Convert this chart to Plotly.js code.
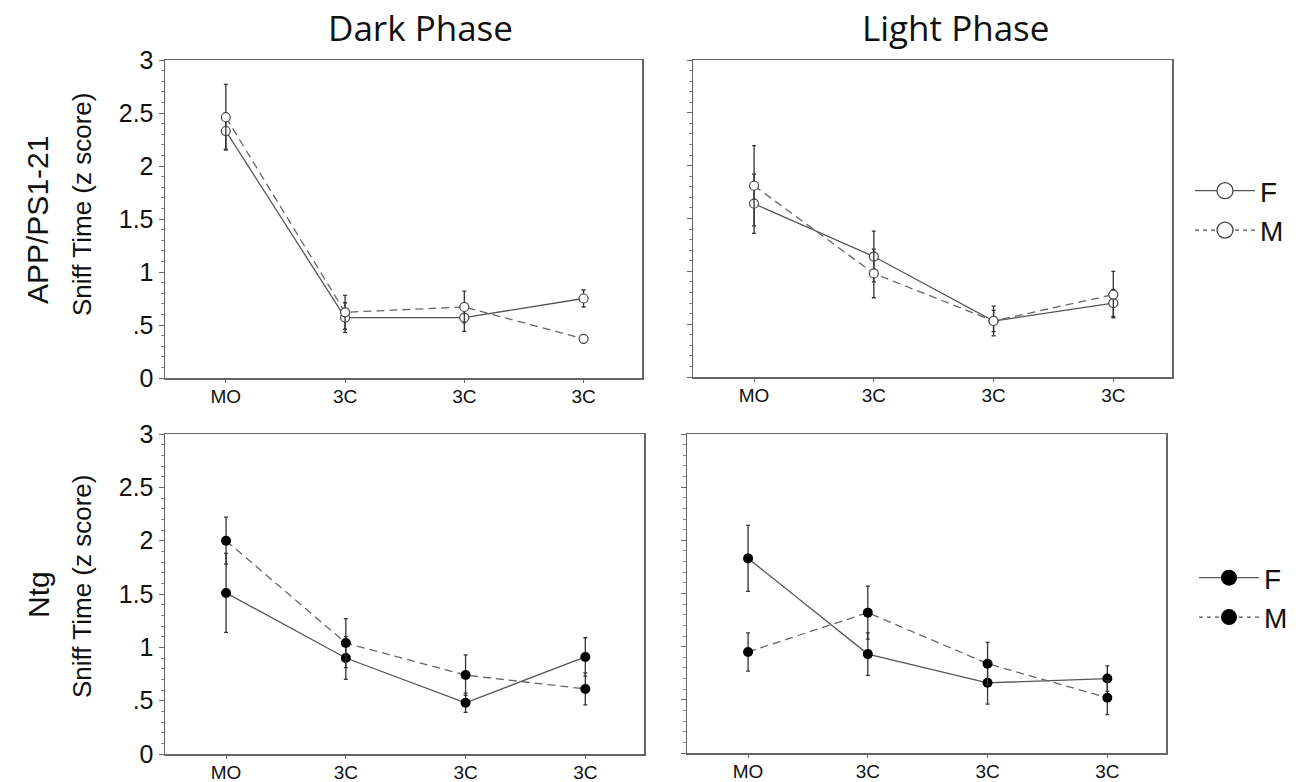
<!DOCTYPE html>
<html><head><meta charset="utf-8">
<script src="https://cdn.plot.ly/plotly-3.0.1.min.js"></script>
<style>html,body{margin:0;padding:0;background:#fff}#chart{width:1301px;height:782px}</style>
</head><body><div id="chart"></div>
<script>
// ---------- data ----------
const categories = ["MO", "3C", "3C", "3C"];
const yTickVals = [0, 0.5, 1, 1.5, 2, 2.5, 3];
const yTickText = ["0", ".5", "1", "1.5", "2", "2.5", "3"];
const phases = ["Dark Phase", "Light Phase"];
const genotypes = ["APP/PS1-21", "Ntg"];
const sexes = ["F", "M"];
const yAxisLabel = "Sniff Time (z score)";

// APP/PS1-21 – Dark phase
const appDarkF = [2.33, 0.57, 0.57, 0.75];
const appDarkFErr = [0.17, 0.14, 0.13, 0.08];
const appDarkM = [2.46, 0.62, 0.67, 0.37];
const appDarkMErr = [0.31, 0.16, 0.15, 0.04];
// APP/PS1-21 – Light phase
const appLightF = [1.64, 1.14, 0.53, 0.70];
const appLightFErr = [0.28, 0.24, 0.14, 0.13];
const appLightM = [1.81, 0.98, 0.53, 0.78];
const appLightMErr = [0.38, 0.23, 0.10, 0.22];
// Ntg – Dark phase
const ntgDarkF = [1.51, 0.90, 0.48, 0.91];
const ntgDarkFErr = [0.37, 0.20, 0.09, 0.18];
const ntgDarkM = [2.00, 1.04, 0.74, 0.61];
const ntgDarkMErr = [0.22, 0.23, 0.19, 0.15];
// Ntg – Light phase
const ntgLightF = [1.83, 0.93, 0.66, 0.70];
const ntgLightFErr = [0.31, 0.20, 0.20, 0.12];
const ntgLightM = [0.95, 1.32, 0.84, 0.52];
const ntgLightMErr = [0.18, 0.25, 0.20, 0.16];

// ---------- helpers ----------
const W = 1301, H = 782;
const fx = px => px / W;
const fy = px => 1 - px / H;
const xIdx = categories.map((_, i) => i);
const FONT = "Liberation Sans, Arial, sans-serif";
const LINEC = "#666";

const openMarker = {symbol: "circle", size: 9, color: "#fff", line: {color: "#444", width: 1.2}};
const fillMarker = {symbol: "circle", size: 10, color: "#000", line: {color: "#000", width: 0}};

function series(y, err, sex, filled, xa, ya) {
  return {
    type: "scatter", mode: "lines+markers",
    x: xIdx, y: y, xaxis: xa, yaxis: ya,
    name: sex, showlegend: false,
    line: {color: sex === "F" ? "#555" : "#666", width: 1.3, dash: sex === "F" ? "solid" : "8px,5px"},
    marker: filled ? fillMarker : openMarker,
    error_y: {type: "data", array: err, visible: true, color: "#333", thickness: 1.3, width: 2},
    hoverinfo: "skip"
  };
}
function legendItem(sex, filled, legendId) {
  const m = filled ? {symbol: "circle", size: 16, color: "#000", line: {width: 0}}
                   : {symbol: "circle", size: 16, color: "#fff", line: {color: "#444", width: 1.3}};
  return {
    type: "scatter", mode: "lines+markers", x: [null], y: [null],
    xaxis: "x", yaxis: "y", name: sex, legend: legendId, showlegend: true,
    line: {color: "#555", width: 1.3, dash: sex === "F" ? "solid" : "4px,4px"},
    marker: m, hoverinfo: "skip"
  };
}

const traces = [
  series(appDarkF, appDarkFErr, "F", false, "x", "y"),
  series(appDarkM, appDarkMErr, "M", false, "x", "y"),
  series(appLightF, appLightFErr, "F", false, "x2", "y2"),
  series(appLightM, appLightMErr, "M", false, "x2", "y2"),
  series(ntgDarkF, ntgDarkFErr, "F", true, "x3", "y3"),
  series(ntgDarkM, ntgDarkMErr, "M", true, "x3", "y3"),
  series(ntgLightF, ntgLightFErr, "F", true, "x4", "y4"),
  series(ntgLightM, ntgLightMErr, "M", true, "x4", "y4"),
  legendItem(sexes[0], false, "legend"),
  legendItem(sexes[1], false, "legend"),
  legendItem(sexes[0], true, "legend2"),
  legendItem(sexes[1], true, "legend2")
];

function xAxis(l, r, anchor) {
  return {
    domain: [fx(l), fx(r)], anchor: anchor, range: [-0.51, 3.49],
    tickmode: "array", tickvals: xIdx, ticktext: categories,
    ticks: "outside", ticklen: 3, tickwidth: 1, tickcolor: LINEC,
    ticklabelstandoff: -2,
    showline: true, linecolor: LINEC, linewidth: 1.5, mirror: true,
    showgrid: false, zeroline: false, fixedrange: true,
    tickfont: {family: FONT, size: 19, color: "#111"}
  };
}
function yAxis(b, t, anchor, labels) {
  return {
    domain: [fy(b), fy(t)], anchor: anchor, range: [0, 3],
    tickmode: "array", tickvals: yTickVals, ticktext: yTickText,
    showticklabels: labels,
    ticks: "outside", ticklen: 5, tickwidth: 1, tickcolor: LINEC,
    minor: {tickmode: "linear", tick0: 0, dtick: 0.1, ticks: "outside", ticklen: 3, tickcolor: "#888", tickwidth: 1, showgrid: false},
    showline: true, linecolor: LINEC, linewidth: 1.5, mirror: true,
    showgrid: false, zeroline: false, fixedrange: true,
    tickfont: {family: FONT, size: 25, color: "#111"}
  };
}

const ann = [];
const titleFont = {family: "Open Sans, Noto Sans, sans-serif", size: 35, color: "#111"};
ann.push({text: phases[0], xref: "paper", yref: "paper", x: fx(420), y: fy(28), xanchor: "center", yanchor: "middle", showarrow: false, font: titleFont});
ann.push({text: phases[1], xref: "paper", yref: "paper", x: fx(955), y: fy(28), xanchor: "center", yanchor: "middle", showarrow: false, font: titleFont});
ann.push({text: genotypes[0], xref: "paper", yref: "paper", x: fx(38), y: fy(220), xanchor: "center", yanchor: "middle", textangle: -90, showarrow: false, font: {family: FONT, size: 30, color: "#111"}});
ann.push({text: genotypes[1], xref: "paper", yref: "paper", x: fx(38), y: fy(595), xanchor: "center", yanchor: "middle", textangle: -90, showarrow: false, font: {family: FONT, size: 30, color: "#111"}});
ann.push({text: yAxisLabel, xref: "paper", yref: "paper", x: fx(82), y: fy(205), xanchor: "center", yanchor: "middle", textangle: -90, showarrow: false, font: {family: FONT, size: 26, color: "#111"}});
ann.push({text: yAxisLabel, xref: "paper", yref: "paper", x: fx(82), y: fy(587), xanchor: "center", yanchor: "middle", textangle: -90, showarrow: false, font: {family: FONT, size: 26, color: "#111"}});

const legendBase = {
  xanchor: "left", yanchor: "top", bgcolor: "rgba(0,0,0,0)", borderwidth: 0,
  itemwidth: 60,
  font: {family: FONT, size: 28, color: "#111"}, tracegroupgap: 0, itemclick: false, itemdoubleclick: false
};

const layout = {
  width: W, height: H,
  margin: {l: 0, r: 0, t: 0, b: 0},
  paper_bgcolor: "#fff", plot_bgcolor: "#fff",
  showlegend: true,
  xaxis: xAxis(165, 642, "y"),
  yaxis: yAxis(378, 60, "x", true),
  xaxis2: xAxis(693, 1172, "y2"),
  yaxis2: yAxis(377, 60, "x2", false),
  xaxis3: xAxis(165, 644, "y3"),
  yaxis3: yAxis(754, 434, "x3", true),
  xaxis4: xAxis(687, 1166, "y4"),
  yaxis4: yAxis(753, 434, "x4", false),
  legend: Object.assign({}, legendBase, {x: fx(1190), y: fy(166)}),
  legend2: Object.assign({}, legendBase, {x: fx(1194), y: fy(553)}),
  annotations: ann
};

Plotly.newPlot("chart", traces, layout, {displayModeBar: false, staticPlot: true});
</script>
</body></html>
